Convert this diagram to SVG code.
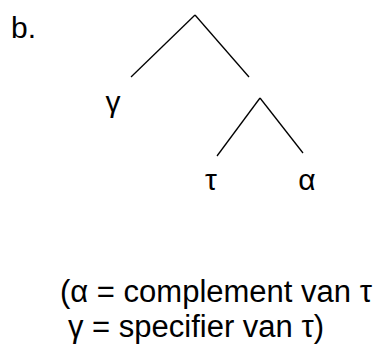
<svg xmlns="http://www.w3.org/2000/svg" width="383" height="345" viewBox="0 0 383 345">
<style>
text{font-family:"Liberation Sans",Arial,sans-serif;fill:#000}
.lab{font-size:30px}
.leg{font-size:31px}
.e line{stroke:#000;stroke-width:1.3}
</style>
<rect width="383" height="345" fill="#fff"/>
<text class="lab" x="11" y="38">b.</text>
<g class="e" id="connectors">
<line x1="195" y1="15" x2="131" y2="77"/>
<line x1="195" y1="15" x2="249" y2="77"/>
<line x1="260" y1="98" x2="217" y2="156"/>
<line x1="260" y1="98" x2="303" y2="153"/>
</g>
<g id="gamma"><text class="lab" x="113" y="112" text-anchor="middle">γ</text></g>
<g id="tau"><text class="lab" x="211" y="190" text-anchor="middle">τ</text></g>
<g id="alpha"><text class="lab" x="307" y="190" text-anchor="middle">α</text></g>
<g id="legend">
<text class="leg" x="60" y="302">(α = complement van τ</text>
<text class="leg" x="68" y="337">γ = specifier van τ)</text>
</g>
</svg>
